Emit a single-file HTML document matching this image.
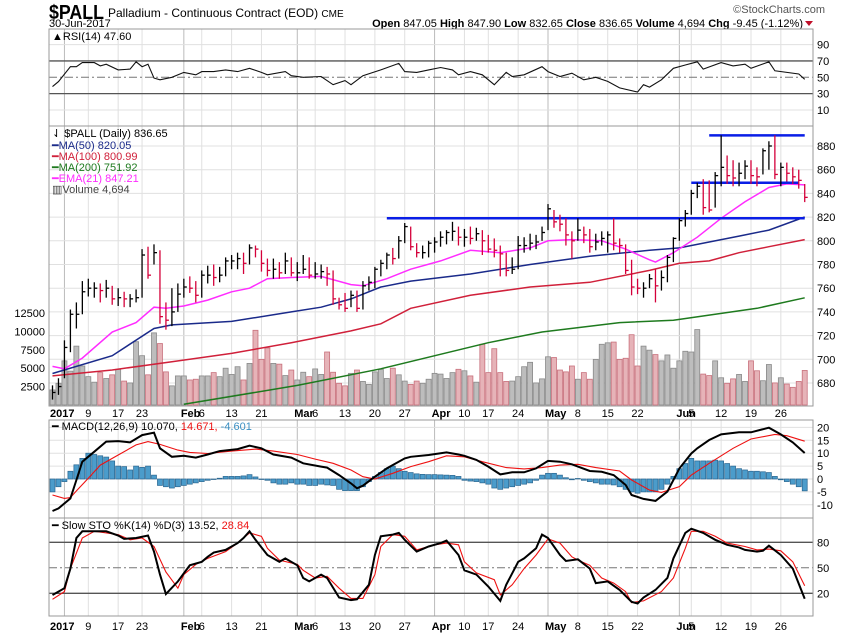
<!DOCTYPE html>
<html><head><meta charset="utf-8"><style>
body{margin:0;background:#fff;}
svg{display:block;font-family:"Liberation Sans",sans-serif;}
</style></head><body>
<svg id="c" width="850" height="633" viewBox="0 0 850 633" xmlns="http://www.w3.org/2000/svg">
<rect x="0" y="0" width="850" height="633" fill="#fff"/>
<text x="49" y="19" font-size="20" font-weight="bold" textLength="55" lengthAdjust="spacingAndGlyphs">$PALL</text>
<text x="108" y="17" font-size="12">Palladium - Continuous Contract (EOD) <tspan font-size="10">CME</tspan></text>
<text x="49" y="27" font-size="11">30-Jun-2017</text>
<text x="803" y="27" font-size="11" text-anchor="end"><tspan font-weight="bold">Open</tspan> 847.05 <tspan font-weight="bold">High</tspan> 847.90 <tspan font-weight="bold">Low</tspan> 832.65 <tspan font-weight="bold">Close</tspan> 836.65 <tspan font-weight="bold">Volume</tspan> 4,694 <tspan font-weight="bold">Chg</tspan> -9.45 (-1.12%)</text>
<polygon points="805,21 813,21 809,26" fill="#c0102a"/>
<text x="825" y="13" font-size="11" fill="#555" text-anchor="end">©StockCharts.com</text>
<g id="grid"></g>
<g id="marks"></g>
<g id="frames"></g>
</svg>
<script>
// ---------- data ----------
const gridIdx=[2,6,11,15,22,25,30,35,41,44,49,54,59,64,69,73,78,83,88,93,98,105,107,112,117,122];
const gridLbl=["2017","9","17","23","Feb","6","13","21","Mar","6","13","20","27","Apr","10","17","24","May","8","15","22","Jun","5","12","19","26"];
const closes=[672,677,710,738,738,757,760,760,758,760,751,752,751,751,752,788,771,790,736,733,740,755,761,760,754,771,771,769,771,783,783,785,781,794,793,781,775,776,773,783,773,773,776,771,772,774,772,751,746,743,754,743,762,765,776,781,788,785,800,812,795,790,790,798,799,803,807,808,803,803,802,806,800,793,792,789,775,776,796,796,798,799,807,827,816,814,805,800,809,805,795,799,802,805,798,796,775,761,760,760,768,762,769,786,802,817,823,840,846,828,826,855,862,855,853,857,863,855,854,876,880,856,862,857,854,851,836.65];
const highs=[678,684,716,742,748,766,768,765,764,767,762,760,757,755,759,793,795,797,792,748,760,764,768,770,766,775,779,780,778,786,788,790,790,797,796,792,785,785,782,790,786,782,788,786,782,780,778,775,752,756,758,758,766,770,778,784,790,794,804,815,812,798,796,800,803,808,809,816,812,810,812,811,809,805,802,796,790,786,804,803,806,805,812,831,826,822,819,808,819,812,810,806,808,808,819,802,797,784,768,765,772,776,775,788,803,819,826,843,849,852,851,858,889,872,868,866,868,868,862,878,884,889,866,866,862,860,847.9];
const lows=[666,670,684,706,726,738,753,752,748,752,746,745,744,744,748,752,768,780,730,725,728,740,752,756,748,752,764,762,765,770,776,776,772,780,786,774,770,768,768,772,770,766,772,768,768,768,762,746,742,740,744,740,742,758,760,770,776,780,785,798,792,786,785,786,790,795,797,800,796,795,797,800,788,790,786,770,770,772,776,790,792,793,800,809,811,808,796,785,800,798,790,792,796,790,792,790,772,754,755,752,760,748,758,765,782,800,812,822,836,822,824,828,846,848,846,846,852,848,846,856,860,852,846,850,848,844,832.65];
const volumes=[2050,2950,6000,4600,8000,5300,3850,3100,4400,3600,4100,4850,3250,3000,8600,6700,4100,9800,8350,4500,2600,3950,3950,3400,3500,3950,3950,4400,3850,5000,4150,5200,3400,5650,10150,6200,7750,5650,5550,4000,4750,3400,4450,3850,4900,4150,7200,4450,2950,2600,4300,4750,3200,2800,4500,4850,3600,5000,4100,3250,2800,3250,2950,3500,4300,4200,3600,4400,4850,4650,3950,3100,8250,4400,7650,4400,3200,3250,3850,5200,5800,3000,3550,6550,6450,4750,4500,5300,3500,4400,3500,6200,8250,8450,8550,6200,6350,9550,5300,8000,7450,6850,6000,6800,5000,6000,7300,7200,10250,4200,4000,6000,3700,2950,3550,4150,3200,6000,4650,3300,5500,3000,3700,2850,2400,3200,4694];
const ma50Idx=[0,10,17,20,30,40,45,50,55,60,70,80,90,100,105,110,115,120,126];
const ma50Val=[688,703,726,729,732,740,744,751,761,766,772,780,787,792,794,799,804,809,820.05];
const ma100Idx=[0,10,20,30,40,50,55,60,70,80,90,100,105,110,115,120,126];
const ma100Val=[686,691,698,705,714,724,730,743,754,761,765,775,781,783,790,795,800.99];
const ma200Idx=[22,41,55,73,82,95,104,118,126];
const ma200Val=[662,678,692,714,723,731,733,743,751.92];
const emaIdx=[0,2,5,10,14,17,19,22,26,30,33,36,40,45,50,52,56,60,65,70,75,80,83,87,92,96,100,101,104,108,112,116,120,123,126];
const emaVal=[694,692,701,723,731,744,743,745,750,757,760,768,769,770,763,762,768,776,783,792,790,794,800,801,800,793,784,782,790,803,819,833,845,848,847.21];
const rsiIdx=[0,1,3,4,5,7,8,9,11,13,14,15,16,17,18,20,22,24,25,27,29,31,33,35,36,39,40,42,45,47,49,50,52,55,58,59,61,63,65,67,68,70,72,74,76,77,79,82,83,85,87,89,91,93,95,98,99,100,102,104,106,108,109,112,114,116,117,120,121,125,126];
const rsiVal=[38.6,44.7,63,63,68,68,64,66,59,60,69,63,66,49,47,50,56,53,57,57,59,57,61,56,53,57,52,50,51,41,46,41,52,59,67,57,56,59,62,59,53,57,53,41,56,51,53,63,57,51,55,47,50,45,37,32,41,38,47,61,65,69,60,68,64,66,61,69,58,54,47.6];
const macdIdx=[0,1,3,4,5,7,9,11,13,15,17,18,20,22,24,26,28,31,33,35,37,40,42,45,46,48,50,51,52,54,56,59,60,63,66,68,69,71,73,75,77,79,81,83,85,87,88,90,92,94,96,97,99,101,103,105,107,108,110,112,115,117,120,122,124,126];
const macdVal=[-12.4,-11.4,-7.5,-0.4,6.7,10.6,14.5,14.7,14.2,17,18,11.9,8.6,9,8.3,9.5,10.8,11.6,12.9,11.9,9.5,8.3,6.1,4.8,4.4,1.5,-1.7,-3.6,-2.6,0.9,4.1,8,8.6,9.3,10.3,9.5,9,7.4,4.8,1.8,2.6,2.6,4.1,7,6.7,5.7,4.8,3.1,2.8,1.5,-2.3,-6.2,-7.7,-8.5,-4.9,4.1,9.9,11.9,15.1,17.3,18.1,18.1,19.9,17.3,14.2,10.07];
const sigIdx=[0,2,3,4,6,8,11,14,16,18,21,23,26,30,34,37,41,44,47,50,52,54,57,60,63,66,69,72,76,79,82,85,88,91,95,97,100,102,105,107,110,114,117,121,123,126];
const sigVal=[-6.2,-7.5,-7.2,-4.6,0.3,5.4,9.3,13.2,14.5,13.4,11.2,10.3,9.9,10.8,11.6,10.8,9.5,7.7,6.1,3.5,0.9,0,2.2,4.8,6.7,9,8.6,6.7,4.4,3.9,4.4,5.4,5.7,4.4,3.1,-0.4,-4.3,-5.2,-3,1.5,6.1,11.9,15.5,17.3,16.8,14.67];
const histVal=[-5,-3,-1,3,5.5,8,10,9.5,9,8.5,7,5,4.8,3.5,5,4.5,5,1.5,-2.5,-3,-3.5,-3,-2.5,-2,-1.5,-1,-0.5,0,0.3,1,1,1,1.2,1.7,0.8,0,-0.5,-1.5,-2,-2,-1.5,-2,-2,-2.5,-2.5,-2,-2.3,-2.5,-4,-4.5,-4.5,-4.5,-3,-1,1,2.5,4,5,4,3,2.5,2,1.8,1.7,1.7,1.6,1.5,1.4,1,-0.5,-0.8,-1,-1.5,-2,-3.5,-4,-3.5,-3,-2.5,-2,-1.5,-0.5,1.5,2.2,2.2,1.5,0.5,-0.3,0.2,-0.5,-1,-1.5,-2,-2,-2.3,-3,-4,-5,-5.5,-5,-5,-5,-4,-2,1,4,6,8,7,7,7,7.3,7,6,5,4,3.5,3,3,2.8,2.5,1,-0.3,-1,-2,-3,-4.6];
const stoKIdx=[0,2,3,4,5,7,9,11,12,14,16,17,18,19,21,23,25,26,27,29,31,32,33,34,36,38,39,41,42,43,45,46,48,50,51,53,54,55,57,58,59,61,63,65,66,68,69,71,73,75,76,78,79,81,82,83,85,86,88,90,91,93,95,97,98,99,101,103,104,106,107,109,111,113,115,116,118,119,120,122,124,126];
const stoKVal=[18,26,49,85,93,93,93,88,84,85,88,69,42,19,34,53,57,63,68,71,79,85,93,83,65,57,61,53,38,34,42,38,15,12,13,30,65,87,89,91,83,69,75,79,82,65,47,42,28,11,30,57,61,73,89,85,65,58,60,49,32,34,24,10,8,15,24,38,61,91,96,91,83,77,74,71,69,70,76,65,49,13.52];
const stoDIdx=[0,2,3,5,7,8,11,13,15,17,19,21,22,24,26,29,31,33,35,36,38,41,42,44,46,48,50,52,54,55,57,59,61,64,66,68,69,71,74,75,77,79,81,83,85,87,88,90,92,94,96,97,99,102,104,106,107,109,111,113,116,118,120,122,124,126];
const stoDVal=[13,22,49,85,93,92,89,83,85,75,45,26,42,54,61,69,79,91,87,73,59,54,47,38,40,26,14,14,42,75,89,87,71,77,79,77,57,44,36,18,30,49,65,84,79,63,59,53,38,32,22,9,11,22,38,73,93,93,87,79,75,71,72,70,57,28.84];
const priceTicks=[680,700,720,740,760,780,800,820,840,860,880];
const volTicks=[2500,5000,7500,10000,12500];
const volTickLbl=["2500","5000","7500","10000","12500"];
const rsiTicks=[10,30,50,70,90];
const macdTicks=[-10,-5,0,5,10,15,20];
const stoTicks=[20,50,80];
const resLevels=[819,849,889];
const resFrom=[56,107,110];
const resTo=[126,125,126];

// ---------- scales ----------
const PL=49, PR=813;
const X0=52.5, DX=5.97;
function xi(i){return X0+i*DX;}
function yP(p){return 146+(880-p)*1.185;}
function yV(v){return 405-v*18.4/2500;}
function yR(r){return 77.3-(r-50)*0.817;}
function yM(m){return 479-m*2.58;}
function yS(s){return 542.3-(s-80)*0.85;}
const panels=[[29,126],[126,406],[420,518],[518,616]];

const NS="http://www.w3.org/2000/svg";
const G=document.getElementById('grid'), M=document.getElementById('marks'), F=document.getElementById('frames');
function mk(parent,tag,attrs,txt){const e=document.createElementNS(NS,tag);for(const k in attrs)e.setAttribute(k,attrs[k]);if(txt!==undefined)e.textContent=txt;parent.appendChild(e);return e;}
function pts(idx,val,fy){return idx.map((ix,k)=>xi(ix).toFixed(1)+','+fy(val[k]).toFixed(1)).join(' ');}

// vertical grid
gridIdx.forEach((ix,k)=>{
  const isMonth=/[A-Za-z]/.test(gridLbl[k])||gridLbl[k]==="2017";
  panels.forEach(p=>{
    const l=mk(G,'line',{x1:xi(ix),x2:xi(ix),y1:p[0],y2:p[1],stroke:isMonth?'#bbb':'#e0e0e0','stroke-width':1});
    
    
  });
  [413,626].forEach(yy=>{
    const t=mk(G,'text',{x:gridLbl[k]==="2017"?50:(isMonth?xi(ix)-3:xi(ix)),y:yy+4,'font-size':11,'font-weight':isMonth?'bold':'normal','text-anchor':isMonth?'start':'middle'},gridLbl[k]);
    
    
  });
});
// horizontal grids + labels
priceTicks.forEach(p=>{
  const l=mk(G,'line',{x1:PL,x2:PR,y1:yP(p),y2:yP(p),stroke:'#e0e0e0'});
  
  
  const t=mk(G,'text',{x:817,y:yP(p)+4,'font-size':11},String(p));
  
  
});
volTicks.forEach((v,k)=>{
  const t=mk(G,'text',{x:45,y:yV(v)+4,'font-size':11,'text-anchor':'end'},volTickLbl[k]);
  
  
});
rsiTicks.forEach(r=>{
  const strong=(r===30||r===70);
  const l=mk(G,'line',{x1:PL,x2:PR,y1:yR(r),y2:yR(r),stroke:strong?'#555':(r===50?'#777':'#e0e0e0'),'stroke-width':strong?1.3:1,'stroke-dasharray':r===50?'8,3,2,3':'none'});
  
  
  const t=mk(G,'text',{x:817,y:yR(r)+4,'font-size':11},String(r));
  
  
});
macdTicks.forEach(m=>{
  const l=mk(G,'line',{x1:PL,x2:PR,y1:yM(m),y2:yM(m),stroke:'#e0e0e0'});
  
  
  const t=mk(G,'text',{x:817,y:yM(m)+4,'font-size':11},String(m));
  
  
});
stoTicks.forEach(s=>{
  const l=mk(G,'line',{x1:PL,x2:PR,y1:yS(s),y2:yS(s),stroke:s===50?'#777':'#555','stroke-width':s===50?1:1.3,'stroke-dasharray':s===50?'8,3,2,3':'none'});
  
  
  const t=mk(G,'text',{x:817,y:yS(s)+4,'font-size':11},String(s));
  
  
});

// clip for price panel
const defs=mk(document.getElementById('c'),'defs',{});
const cp=mk(defs,'clipPath',{id:'pclip'});
mk(cp,'rect',{x:PL,y:126,width:PR-PL,height:280});

// volume bars
volumes.forEach((v,i)=>{
  const down=i>0&&closes[i]<closes[i-1];
  const r=mk(M,'rect',{x:xi(i)-2.5,y:yV(v),width:5,height:405-yV(v),fill:down?'#e6b3b8':'#bdbdbd',stroke:down?'#c8707c':'#8a8a8a','stroke-width':0.8});
  
  
});
// moving averages
const pg=mk(M,'g',{'clip-path':'url(#pclip)'});
[[ma200Idx,ma200Val,'#1e7a1e','ma200-line'],[ma100Idx,ma100Val,'#d0203a','ma100-line'],[ma50Idx,ma50Val,'#1a2a8a','ma50-line'],[emaIdx,emaVal,'#ff2cff','ema21-line']].forEach(s=>{
  const l=mk(pg,'polyline',{points:pts(s[0],s[1],yP),fill:'none',stroke:s[2],'stroke-width':1.5});
  
  
});
// resistance lines
resLevels.forEach((p,k)=>{
  const l=mk(M,'line',{x1:xi(resFrom[k]),x2:xi(resTo[k]),y1:yP(p),y2:yP(p),stroke:'#0a1ee6','stroke-width':2.5});
  
  
});
// price bars
closes.forEach((c,i)=>{
  const down=i>0&&c<closes[i-1];
  const col=down?'#d4003a':'#000';
  const x=xi(i);
  const g=mk(M,'g',{stroke:col,'stroke-width':1.3});
  
  
  mk(g,'line',{x1:x,x2:x,y1:yP(highs[i]),y2:yP(lows[i])});
  mk(g,'line',{x1:x,x2:x+3,y1:yP(c),y2:yP(c)});
});
// RSI
const rl=mk(M,'polyline',{points:pts(rsiIdx,rsiVal,yR),fill:'none',stroke:'#111','stroke-width':1.1});


// MACD histogram
histVal.forEach((h,i)=>{
  const y1=Math.min(yM(0),yM(h)), hh=Math.abs(yM(h)-yM(0));
  const r=mk(M,'rect',{x:xi(i)-2.5,y:y1,width:5,height:Math.max(hh,0.5),fill:'#4b9ccb',stroke:'#2a6690','stroke-width':0.7});
  
  
});
const sl=mk(M,'polyline',{points:pts(sigIdx,sigVal,yM),fill:'none',stroke:'#ee1111','stroke-width':1.1});


const ml=mk(M,'polyline',{points:pts(macdIdx,macdVal,yM),fill:'none',stroke:'#000','stroke-width':2});


// Stochastic
const dl=mk(M,'polyline',{points:pts(stoDIdx,stoDVal,yS),fill:'none',stroke:'#ee1111','stroke-width':1.1});


const kl=mk(M,'polyline',{points:pts(stoKIdx,stoKVal,yS),fill:'none',stroke:'#000','stroke-width':2});



// panel frames
panels.forEach(p=>{
  const r=mk(F,'rect',{x:PL,y:p[0],width:PR-PL,height:p[1]-p[0],fill:'none',stroke:'#999','stroke-width':1});
  
  
});
// legends
function leg(x,y,txt,col,name){const t=mk(F,'text',{x:x,y:y,'font-size':11,fill:col||'#000'},txt);return t;}
leg(52,40,'▲RSI(14) 47.60','#000','rsi-legend');
leg(52,137,'⇃ $PALL (Daily) 836.65','#000','price-legend');
leg(52,149,'━MA(50) 820.05','#1a2a8a','ma50-legend');
leg(52,160,'━MA(100) 800.99','#d0203a','ma100-legend');
leg(52,171,'━MA(200) 751.92','#1e7a1e','ma200-legend');
leg(52,182,'━EMA(21) 847.21','#ff2cff','ema21-legend');
leg(52,193,'▥Volume 4,694','#444','volume-legend');
const mt=leg(52,430,'━ MACD(12,26,9) 10.070, ','#000','macd-legend');
const m2=mk(mt,'tspan',{fill:'#ee1111'},'14.671, ');
const m3=mk(mt,'tspan',{fill:'#3b8fc2'},'-4.601');
const st=leg(52,529,'━ Slow STO %K(14) %D(3) 13.52, ','#000','stochastic-legend');
mk(st,'tspan',{fill:'#ee1111'},'28.84');
</script>
</body></html>
